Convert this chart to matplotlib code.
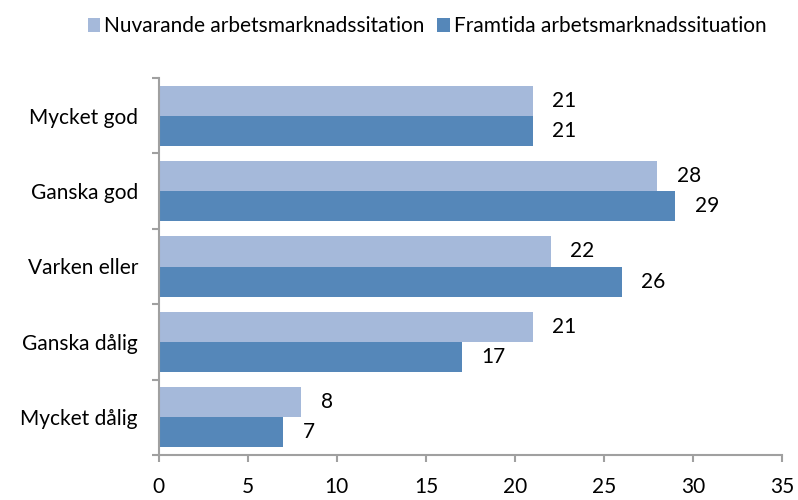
import numpy as np
import matplotlib.pyplot as plt

plt.rcParams['font.family'] = ['Lato', 'DejaVu Sans']

categories = ["Mycket god", "Ganska god", "Varken eller", "Ganska dålig", "Mycket dålig"]
nuvarande = [21, 28, 22, 21, 8]
framtida = [21, 29, 26, 17, 7]
series_names = ["Nuvarande arbetsmarknadssitation", "Framtida arbetsmarknadssituation"]

light = "#A5B9DA"
dark = "#5587B9"
fs = 15

fig = plt.figure(figsize=(7.98, 5.0), dpi=100)
ax = fig.add_axes([0.199, 0.09, 0.781, 0.754])

y = np.arange(len(categories))
h = 0.4
b1 = ax.barh(y - h / 2, nuvarande, height=h, color=light, label=series_names[0])
b2 = ax.barh(y + h / 2, framtida, height=h, color=dark, label=series_names[1])

for bars, vals in ((b1, nuvarande), (b2, framtida)):
    for bar, v in zip(bars, vals):
        ax.annotate(str(v), (v, bar.get_y() + bar.get_height() / 2),
                    xytext=(14, 0), textcoords="offset points",
                    va="center", ha="left", fontsize=fs)

ax.set_xlim(0, 35)
ax.set_xticks(range(0, 36, 5))
ax.set_ylim(len(categories) - 0.5, -0.5)

# ticks between categories, labels at group centres
ax.set_yticks(np.arange(-0.5, len(categories)), labels=[])
ax.set_yticks(y, labels=categories, minor=True)
ax.tick_params(axis="y", which="minor", length=0, pad=15, labelsize=fs)
ax.tick_params(axis="y", which="major", length=5, color="#A0A0A0", width=1.5)
ax.tick_params(axis="x", length=5, color="#A0A0A0", width=1.5, pad=11, labelsize=fs)

for s in ("top", "right"):
    ax.spines[s].set_visible(False)
for s in ("left", "bottom"):
    ax.spines[s].set_color("#A0A0A0")
    ax.spines[s].set_linewidth(1.5)

fig.legend(handles=[b1, b2], loc="upper center", bbox_to_anchor=(0.535, 1.005),
           ncol=2, frameon=False, fontsize=fs, handlelength=0.6, handleheight=0.6,
           handletextpad=0.2, columnspacing=0.6)

fig.savefig("out.png", dpi=100)
